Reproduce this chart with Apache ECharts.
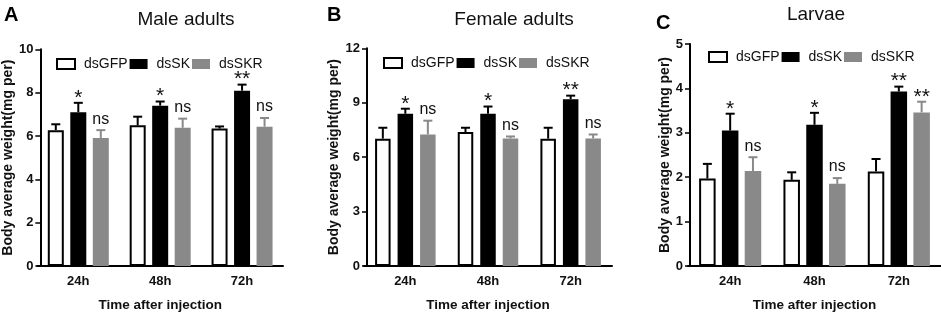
<!DOCTYPE html>
<html>
<head>
<meta charset="utf-8">
<script src="https://cdn.jsdelivr.net/npm/echarts@6/dist/echarts.min.js"></script>
<style>
html,body{margin:0;padding:0;background:#fff;}
#chart{width:941px;height:317px;}
</style>
</head>
<body>
<div id="chart"></div>
<script>
// ---------- data ----------
const categories = ['24h', '48h', '72h'];
const seriesNames = ['dsGFP', 'dsSK', 'dsSKR'];

// Panel A: Male adults
const maleTicks = [0, 2, 4, 6, 8, 10];
const maleGFP = [6.27, 6.49, 6.34];
const maleGFPErr = [0.27, 0.40, 0.10];
const maleSK = [7.10, 7.40, 8.09];
const maleSKErr = [0.43, 0.19, 0.28];
const maleSKR = [5.91, 6.38, 6.43];
const maleSKRErr = [0.36, 0.42, 0.40];
const maleSigSK = ['*', '*', '**'];
const maleSigSKR = ['ns', 'ns', 'ns'];

// Panel B: Female adults
const femaleTicks = [0, 3, 6, 9, 12];
const femaleGFP = [7.02, 7.38, 7.02];
const femaleGFPErr = [0.60, 0.24, 0.60];
const femaleSK = [8.39, 8.39, 9.19];
const femaleSKErr = [0.28, 0.40, 0.20];
const femaleSKR = [7.25, 7.03, 7.03];
const femaleSKRErr = [0.76, 0.11, 0.22];
const femaleSigSK = ['*', '*', '**'];
const femaleSigSKR = ['ns', 'ns', 'ns'];

// Panel C: Larvae
const larvaeTicks = [0, 1, 2, 3, 4, 5];
const larvaeGFP = [1.97, 1.94, 2.13];
const larvaeGFPErr = [0.33, 0.17, 0.28];
const larvaeSK = [3.05, 3.18, 3.93];
const larvaeSKErr = [0.38, 0.27, 0.11];
const larvaeSKR = [2.14, 1.85, 3.46];
const larvaeSKRErr = [0.31, 0.13, 0.24];
const larvaeSigSK = ['*', '*', '**'];
const larvaeSigSKR = ['ns', 'ns', '**'];

const panelTitles = ['Male adults', 'Female adults', 'Larvae'];
const panelLetters = ['A', 'B', 'C'];
const yName = 'Body average weight(mg per)';
const xName = 'Time after injection';

// ---------- styling / layout ----------
const FONT = '"Liberation Sans", Arial, Helvetica, sans-serif';
const GRAY = '#898989';
const layouts = [
  {left: 36, top: 49.3, width: 247, height: 219, yOffset: -3, barW: 16, gap: 6.5, nameGap: 24, legendLeft: 56, legendTop: 57},
  {left: 364, top: 48.3, width: 248, height: 220, yOffset: -3, barW: 15.5, gap: 7, nameGap: 24, legendLeft: 383, legendTop: 56},
  {left: 688, top: 44, width: 253, height: 222.3, yOffset: -2, barW: 16.5, gap: 6.3, nameGap: 16, legendLeft: 708, legendTop: 50}
];
const titlePos = [[186, 20], [514, 20], [816, 15]];
const letterPos = [[4, 15], [327, 15], [656, 23]];

const panels = [
  {ticks: maleTicks, vals: [maleGFP, maleSK, maleSKR], errs: [maleGFPErr, maleSKErr, maleSKRErr], sigs: [null, maleSigSK, maleSigSKR]},
  {ticks: femaleTicks, vals: [femaleGFP, femaleSK, femaleSKR], errs: [femaleGFPErr, femaleSKErr, femaleSKRErr], sigs: [null, femaleSigSK, femaleSigSKR]},
  {ticks: larvaeTicks, vals: [larvaeGFP, larvaeSK, larvaeSKR], errs: [larvaeGFPErr, larvaeSKErr, larvaeSKRErr], sigs: [null, larvaeSigSK, larvaeSigSKR]}
];

const barStyles = [
  {color: '#ffffff', borderColor: '#000000', borderWidth: 2},
  {color: '#000000'},
  {color: GRAY}
];
const errColors = ['#000000', '#000000', GRAY];

function errRender(offset, color, sigs) {
  return function (params, api) {
    const i = api.value(0), v = api.value(1), e = api.value(2);
    const base = api.coord([i, v]);
    const top = api.coord([i, v + e]);
    const x = base[0] + offset;
    const children = [
      {type: 'line', shape: {x1: x, y1: base[1], x2: x, y2: top[1]}, style: {stroke: color, lineWidth: 2}},
      {type: 'line', shape: {x1: x - 4.5, y1: top[1], x2: x + 4.5, y2: top[1]}, style: {stroke: color, lineWidth: 2}}
    ];
    const s = sigs ? sigs[params.dataIndex] : '';
    if (s) {
      const star = s.indexOf('*') >= 0;
      children.push({
        type: 'text',
        style: {
          text: s, x: x, y: top[1] - (star ? 5 : 11),
          align: 'center', verticalAlign: 'middle',
          fontSize: star ? 21 : 16, fontFamily: FONT, fill: '#111'
        }
      });
    }
    return {type: 'group', children: children};
  };
}

const grid = [], xAxis = [], yAxis = [], series = [], legend = [], graphic = [];

panels.forEach(function (p, gi) {
  const L = layouts[gi];
  grid.push({left: L.left, top: L.top, width: L.width, height: L.height, containLabel: false});
  xAxis.push({
    type: 'category', gridIndex: gi, data: categories,
    axisLine: {lineStyle: {color: '#000', width: 2}},
    axisTick: {alignWithLabel: true, length: 4, lineStyle: {color: '#000', width: 1.5}},
    axisLabel: {fontWeight: 'bold', fontSize: 13, color: '#111', margin: 9, fontFamily: FONT},
    name: xName, nameLocation: 'middle', nameGap: 32,
    nameTextStyle: {fontWeight: 'bold', fontSize: 13.5, color: '#111', fontFamily: FONT}
  });
  const t = p.ticks;
  yAxis.push({
    type: 'value', gridIndex: gi, min: t[0], max: t[t.length - 1], interval: t[1] - t[0],
    offset: L.yOffset,
    splitLine: {show: false},
    axisLine: {show: true, lineStyle: {color: '#000', width: 2}},
    axisTick: {show: true, length: 5, lineStyle: {color: '#000', width: 1.5}},
    axisLabel: {fontWeight: 'bold', fontSize: 13, color: '#111', margin: 7, fontFamily: FONT},
    name: yName, nameLocation: 'middle', nameGap: L.nameGap,
    nameTextStyle: {fontWeight: 'bold', fontSize: 14, color: '#111', fontFamily: FONT}
  });
  const step = L.barW + L.gap;
  seriesNames.forEach(function (nm, k) {
    series.push({
      type: 'bar', name: nm, xAxisIndex: gi, yAxisIndex: gi,
      data: p.vals[k], barWidth: L.barW, barGap: (L.gap / L.barW * 100) + '%',
      itemStyle: barStyles[k], emphasis: {disabled: true}
    });
  });
  seriesNames.forEach(function (nm, k) {
    series.push({
      type: 'custom', name: nm + ' error', xAxisIndex: gi, yAxisIndex: gi, z: 5,
      data: p.vals[k].map(function (v, i) { return [i, v, p.errs[k][i]]; }),
      renderItem: errRender((k - 1) * step, errColors[k], p.sigs[k]),
      silent: true
    });
  });
  legend.push({
    left: L.legendLeft, top: L.legendTop, padding: 0, orient: 'horizontal',
    data: seriesNames, icon: 'rect', itemWidth: 18, itemHeight: 10, itemGap: 2,
    textStyle: {fontSize: 14, color: '#111', fontFamily: FONT, padding: [0, 0, 0, 4]}
  });
  graphic.push({
    type: 'text', x: titlePos[gi][0], y: titlePos[gi][1],
    style: {text: panelTitles[gi], align: 'center', verticalAlign: 'middle', fontSize: 19, fontFamily: FONT, fill: '#111'}
  });
  graphic.push({
    type: 'text', x: letterPos[gi][0], y: letterPos[gi][1],
    style: {text: panelLetters[gi], align: 'left', verticalAlign: 'middle', fontSize: 20, fontWeight: 'bold', fontFamily: FONT, fill: '#000'}
  });
});

const chart = echarts.init(document.getElementById('chart'));
chart.setOption({
  animation: false,
  backgroundColor: '#ffffff',
  textStyle: {fontFamily: FONT},
  grid: grid, xAxis: xAxis, yAxis: yAxis, series: series, legend: legend, graphic: graphic
});
</script>
</body>
</html>
